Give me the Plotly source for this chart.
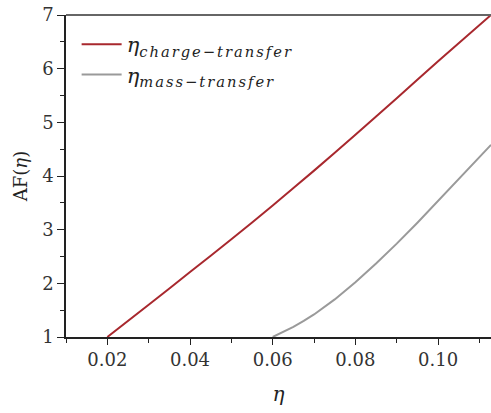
import plotly.graph_objects as go

# Overpotential grid and acceleration factors for each limiting process
eta_charge = [0.02, 0.03, 0.04, 0.05, 0.06, 0.07, 0.08, 0.09, 0.10, 0.1128]
af_charge = [1.0, 1.60, 2.21, 2.82, 3.45, 4.10, 4.77, 5.45, 6.14, 7.0]

eta_mass = [0.06, 0.0625, 0.065, 0.0675, 0.07, 0.075, 0.08, 0.085, 0.09, 0.095, 0.10, 0.105, 0.11, 0.1128]
af_mass = [1.0, 1.09, 1.19, 1.30, 1.42, 1.70, 2.02, 2.37, 2.74, 3.13, 3.54, 3.95, 4.36, 4.58]

x_ticks = [0.02, 0.04, 0.06, 0.08, 0.10]
x_tick_labels = ["0.02", "0.04", "0.06", "0.08", "0.10"]
y_ticks = [1, 2, 3, 4, 5, 6, 7]

SERIF = "DejaVu Serif"


def legend_label(sub):
    return ("<i>η<sub><span style='letter-spacing:2px'>"
            + sub + "</span></sub></i>")


fig = go.Figure()
fig.add_trace(go.Scatter(
    x=eta_charge, y=af_charge, mode="lines",
    line=dict(color="#a8282e", width=2, shape="spline", smoothing=0.6),
    name=legend_label("charge−transfer"),
))
fig.add_trace(go.Scatter(
    x=eta_mass, y=af_mass, mode="lines",
    line=dict(color="#9a9a9a", width=2, shape="linear"),
    name=legend_label("mass−transfer"),
))

fig.update_layout(
    width=491, height=413,
    margin=dict(l=66, r=0, t=15, b=76),
    paper_bgcolor="white", plot_bgcolor="white",
    font=dict(family=SERIF, size=18, color="#222"),
    showlegend=True,
    legend=dict(
        x=0.025, y=0.972, xanchor="left", yanchor="top",
        bgcolor="rgba(0,0,0,0)", font=dict(family=SERIF, size=21, color="#222"),
        tracegroupgap=0, itemwidth=40,
    ),
    xaxis=dict(
        range=[0.01, 0.1128],
        tickmode="array", tickvals=x_ticks, ticktext=x_tick_labels,
        ticks="outside", ticklen=6, tickwidth=1, tickcolor="#222",
        minor=dict(dtick=0.01, tick0=0.01, ticks="outside", ticklen=4, tickcolor="#222"),
        showline=True, linecolor="#222", linewidth=1.5,
        mirror=False, showgrid=False, zeroline=False,
        title=dict(text="<i>η</i>", standoff=18, font=dict(family=SERIF, size=20)),
        tickfont=dict(family=SERIF, size=18, color="#333"),
    ),
    yaxis=dict(
        range=[1, 7],
        tickmode="array", tickvals=y_ticks,
        ticks="outside", ticklen=7, tickwidth=1, tickcolor="#222",
        minor=dict(dtick=0.5, tick0=1, ticks="outside", ticklen=4, tickcolor="#222"),
        showline=True, linecolor="#222", linewidth=1.5,
        showgrid=False, zeroline=False,
        title=dict(text="AF(<i>η</i>)", standoff=10, font=dict(family=SERIF, size=18)),
        tickfont=dict(family=SERIF, size=18, color="#333"),
    ),
    shapes=[dict(
        type="line", xref="paper", yref="paper", x0=0, x1=1, y0=1, y1=1,
        line=dict(color="#666", width=2),
    )],
)

fig.write_html("out.html")
